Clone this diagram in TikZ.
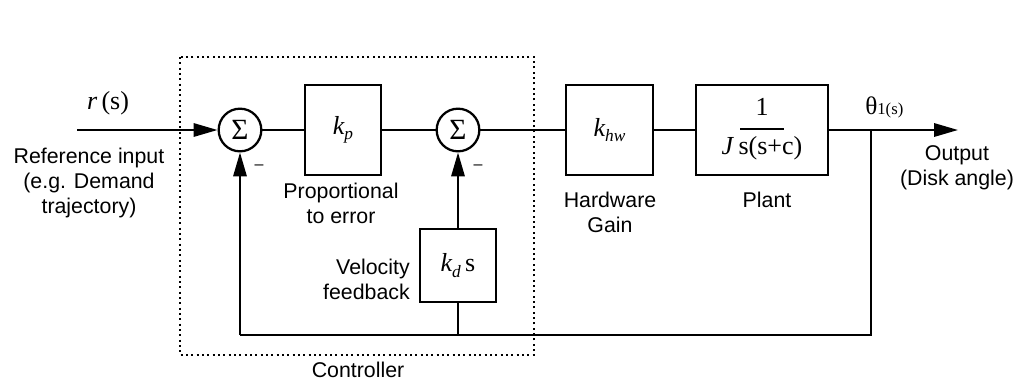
\documentclass[tikz,border=0pt]{standalone}
\usepackage{fontspec}
\setmainfont{Liberation Sans}
\newfontfamily\serifff{Liberation Serif}
\usetikzlibrary{arrows.meta}
\newcommand{\lbl}{\fontsize{16}{18.6}\selectfont}
\newcommand{\mth}{\serifff\fontsize{19.5}{19.5}\selectfont}
\newcommand{\lowr}[1]{\raisebox{-0.45ex}{\fontsize{13}{13}\selectfont\itshape #1}}
\begin{document}
\begin{tikzpicture}[x=0.75pt,y=-0.75pt,
  wire/.style={line width=1.7pt},
  arr/.style={wire,-{Triangle[length=18pt,width=10pt]}},
  blk/.style={draw,line width=1.7pt,inner sep=0pt},
  sumnode/.style={draw,circle,line width=1.7pt,minimum size=32pt,inner sep=0pt},
  txt/.style={font=\lbl,align=center,inner sep=0pt},
  ctrlbox/.style={line width=1pt,dash pattern=on 1.6pt off 2.4pt}
]
\useasboundingbox (0,0) rectangle (1018,383);

% blocks
\node[sumnode] (s1) at (240,130) {\serifff\fontsize{22}{22}\selectfont Σ};
\node[sumnode] (s2) at (458,130) {\serifff\fontsize{22}{22}\selectfont Σ};
\node[blk,minimum width=57pt,minimum height=67pt] (kp) at (343,130) {\mth\itshape k\lowr{p}};
\node[blk,minimum width=65pt,minimum height=67pt] (khw) at (609.5,130) {\mth\itshape k\lowr{hw}};
\node[blk,minimum width=99pt,minimum height=67pt] (plant) at (762,130)
  {\mth\begin{tabular}{@{}c@{}}1\\[-9pt]\rule{33pt}{1.4pt}\\[-1pt]\textit{J}\,s(s+c)\end{tabular}};
\node[blk,minimum width=57pt,minimum height=55pt] (kds) at (458,265.5) {\mth\itshape k\lowr{d}\,\upshape s};

% coordinates
\coordinate (in) at (77,130);
\coordinate (tap) at (871,130);
\coordinate (out) at (958,130);
\coordinate (fb1) at (240,335);
\coordinate (fb2) at (458,335);
\coordinate (fb3) at (871,335);

% connectors
\draw[arr] (in) -- (s1.west);
\draw[wire] (s1.east) -- (kp.west);
\draw[wire] (kp.east) -- (s2.west);
\draw[wire] (s2.east) -- (khw.west);
\draw[wire] (khw.east) -- (plant.west);
\draw[arr] (plant.east) -- (out);
\draw[wire] (tap) -- (fb3) -- (fb1);
\draw[arr] (fb1) -- (s1.south);
\draw[wire] (kds.south) -- (fb2);
\draw[arr] (kds.north) -- (s2.south);

% controller box
\draw[ctrlbox] (180,57) rectangle (534,355);

% labels
\node[txt] (rs) at (108,103) {\mth\itshape r\upshape\,(s)};
\node[txt] (refin) at (89,183) {Reference input\\(e.g. Demand\\trajectory)};
\node[txt] (m1) at (259,167) {\fontsize{12}{12}\selectfont --};
\node[txt] (m2) at (478,167) {\fontsize{12}{12}\selectfont --};
\node[txt] (prop) at (341,203.5) {Proportional\\to error};
\node[txt,align=right,anchor=east] (vel) at (410,279.5) {Velocity\\feedback};
\node[txt] (hw) at (610,212.5) {Hardware\\Gain};
\node[txt] (pl) at (767,200) {Plant};
\node[txt,anchor=base west] (th) at (865,114) {\serifff\fontsize{19}{19}\selectfont θ\fontsize{12.5}{12.5}\selectfont 1(s)};
\node[txt] (outl) at (957,167.5) {Output\\(Disk angle)};
\node[txt] (ctrl) at (358,370) {Controller};
\end{tikzpicture}
\end{document}
